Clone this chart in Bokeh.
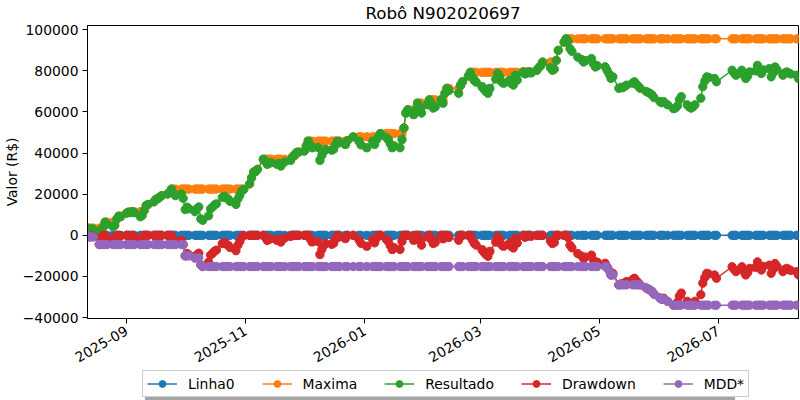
import math
import numpy as np
import pandas as pd
from bokeh.plotting import figure
from bokeh.layouts import column
from bokeh.models import (Range1d, FixedTicker, DatetimeTickFormatter, Legend,
                          LegendItem)
from bokeh.embed import file_html
from bokeh.resources import INLINE

titulo = "Robô N902020697"
rotulo_y = "Valor (R$)"
nomes = ["Linha0", "Maxima", "Resultado", "Drawdown", "MDD*"]
cores = ["#1f77b4", "#ff7f0e", "#2ca02c", "#d62728", "#9467bd"]

datas = [
    "2025-08-12", "2025-08-13", "2025-08-14", "2025-08-15",
    "2025-08-18", "2025-08-19", "2025-08-20", "2025-08-21", "2025-08-22",
    "2025-08-25", "2025-08-26", "2025-08-27", "2025-08-28", "2025-08-29",
    "2025-09-01", "2025-09-02", "2025-09-03", "2025-09-04", "2025-09-05",
    "2025-09-08", "2025-09-09", "2025-09-10", "2025-09-11", "2025-09-12",
    "2025-09-15", "2025-09-16", "2025-09-17", "2025-09-18", "2025-09-19",
    "2025-09-22", "2025-09-23", "2025-09-24", "2025-09-25", "2025-09-26",
    "2025-09-29", "2025-09-30", "2025-10-01", "2025-10-02", "2025-10-03",
    "2025-10-06", "2025-10-07", "2025-10-08", "2025-10-09", "2025-10-10",
    "2025-10-13", "2025-10-14", "2025-10-15", "2025-10-16", "2025-10-17",
    "2025-10-20", "2025-10-21", "2025-10-22", "2025-10-23", "2025-10-24",
    "2025-10-27", "2025-10-28", "2025-10-29", "2025-10-30", "2025-10-31",
    "2025-11-03", "2025-11-04", "2025-11-05", "2025-11-06", "2025-11-07",
    "2025-11-10", "2025-11-11", "2025-11-12", "2025-11-13", "2025-11-14",
    "2025-11-17", "2025-11-18", "2025-11-19", "2025-11-21",
    "2025-11-24", "2025-11-25", "2025-11-26", "2025-11-27", "2025-11-28",
    "2025-12-01", "2025-12-02", "2025-12-03", "2025-12-04", "2025-12-05",
    "2025-12-08", "2025-12-09", "2025-12-10", "2025-12-11", "2025-12-12",
    "2025-12-15", "2025-12-16", "2025-12-17", "2025-12-18", "2025-12-19",
    "2025-12-22", "2025-12-23", "2025-12-26",
    "2025-12-29", "2025-12-30", "2026-01-02",
    "2026-01-05", "2026-01-06", "2026-01-07", "2026-01-08", "2026-01-09",
    "2026-01-12", "2026-01-13", "2026-01-14", "2026-01-15", "2026-01-16",
    "2026-01-19", "2026-01-20", "2026-01-21", "2026-01-22", "2026-01-23",
    "2026-01-26", "2026-01-27", "2026-01-28", "2026-01-29", "2026-01-30",
    "2026-02-02", "2026-02-03", "2026-02-04", "2026-02-05", "2026-02-06",
    "2026-02-09", "2026-02-10", "2026-02-11", "2026-02-12", "2026-02-13",
    "2026-02-18", "2026-02-19", "2026-02-20",
    "2026-02-23", "2026-02-24", "2026-02-25", "2026-02-26", "2026-02-27",
    "2026-03-02", "2026-03-03", "2026-03-04", "2026-03-05", "2026-03-06",
    "2026-03-09", "2026-03-10", "2026-03-11", "2026-03-12", "2026-03-13",
    "2026-03-16", "2026-03-17", "2026-03-18", "2026-03-19", "2026-03-20",
    "2026-03-23", "2026-03-24", "2026-03-25", "2026-03-26", "2026-03-27",
    "2026-03-30", "2026-03-31", "2026-04-01", "2026-04-02",
    "2026-04-06", "2026-04-07", "2026-04-08", "2026-04-09", "2026-04-10",
    "2026-04-13", "2026-04-14", "2026-04-15", "2026-04-16", "2026-04-17",
    "2026-04-20", "2026-04-22", "2026-04-23", "2026-04-24",
    "2026-04-27", "2026-04-28", "2026-04-29", "2026-04-30",
    "2026-05-04", "2026-05-05", "2026-05-06", "2026-05-07", "2026-05-08",
    "2026-05-11", "2026-05-12", "2026-05-13", "2026-05-14", "2026-05-15",
    "2026-05-18", "2026-05-19", "2026-05-20", "2026-05-21", "2026-05-22",
    "2026-05-25", "2026-05-26", "2026-05-27", "2026-05-28", "2026-05-29",
    "2026-06-01", "2026-06-02", "2026-06-03", "2026-06-05",
    "2026-06-08", "2026-06-09", "2026-06-10", "2026-06-11", "2026-06-12",
    "2026-06-15", "2026-06-16", "2026-06-17", "2026-06-18", "2026-06-19",
    "2026-06-22", "2026-06-23", "2026-06-24", "2026-06-25", "2026-06-26",
    "2026-06-29", "2026-06-30",
    "2026-07-08", "2026-07-09", "2026-07-10",
    "2026-07-13", "2026-07-14", "2026-07-15", "2026-07-16", "2026-07-17",
    "2026-07-20", "2026-07-21", "2026-07-22", "2026-07-23", "2026-07-24",
    "2026-07-27", "2026-07-28", "2026-07-29", "2026-07-30", "2026-07-31",
    "2026-08-03", "2026-08-04", "2026-08-05", "2026-08-06", "2026-08-07",
    "2026-08-10", "2026-08-11",
]

resultado = [
    3500, 2700, 3200, 2900,
    -1000, 2500, 4000, 6400, 5500,
    4200, 4800, 8000, 9300, 9000,
    10800, 11300, 11000, 11500, 11000,
    9000, 9600, 12000, 14500, 15000,
    16300, 17500, 17800, 18600, 19300,
    20100, 21000, 22500, 20500, 19300,
    20100, 18000, 12500, 13700, 12900,
    11500, 13000, 13800, 8000, 7300,
    9500, 12900, 13700, 14800, 15300,
    18500, 19000, 18200, 17700, 16500,
    15000, 17700, 19500, 21700, 22300,
    25000, 28000, 30800, 31000, 32100,
    37000, 36100, 34500, 35000, 35400,
    34600, 35000, 33700, 35700,
    36500, 38200, 39000, 40200, 40500,
    41000, 43500, 45800, 44000, 42600,
    42700, 36500, 39000, 41000, 41800,
    41400, 42000, 44000, 45800, 45000,
    44200, 46000, 47900,
    45800, 44000, 42600,
    45800, 44200, 46500, 48000, 49500,
    47500, 46600, 44500, 42600, 43500,
    42600, 46600, 52200, 59500, 61100,
    58700, 61000, 64300, 62000, 59500,
    63500, 65900, 64000, 61900, 62500,
    66000, 64300, 69100, 71500, 70500,
    69100, 73000, 74700,
    77500, 79300, 77000, 75500, 74500,
    72300, 71000, 70000, 69100, 71500,
    76000, 78700, 77000, 74700, 74000,
    75500, 74000, 73100, 77900, 75500,
    79500, 78500, 79000, 79500, 79000,
    80300, 81500, 82500, 84300,
    81500, 80300, 80800, 85100, 90000,
    94000, 95600, 94500, 90800, 89500,
    86700, 85500, 84300, 85000,
    86000, 83500, 81900, 82500,
    82000, 80300, 78500, 76300, 77100,
    71500, 72000, 71800, 72500, 73100,
    74000, 74700, 73500, 72500, 71500,
    70000, 69500, 69000, 68300, 67000,
    65100, 64500, 65000, 63500,
    61600, 61900, 63000, 66000, 67500,
    63500, 62500, 61900, 62500, 63500,
    66700, 72300, 75000, 77100, 76800,
    76300, 74700,
    80300, 79000, 77900,
    80300, 78000, 76300, 77500, 79500,
    80000, 82700, 80000, 78700, 80500,
    81100, 77100, 79000, 81900, 80500,
    77900, 79000, 79500, 79000, 78500,
    77900, 76300,
]

x_ticks = ["2025-09-01", "2025-11-01", "2026-01-01", "2026-03-01", "2026-05-01", "2026-07-01"]
x_tick_labels = ["2025-09", "2025-11", "2026-01", "2026-03", "2026-05", "2026-07"]
y_ticks = [-40000, -20000, 0, 20000, 40000, 60000, 80000, 100000]
y_tick_labels = ["\u221240000", "\u221220000", "0", "20000", "40000", "60000", "80000", "100000"]

xs = list(pd.to_datetime(datas).to_pydatetime())
res = np.array(resultado, dtype=float)
linha0 = np.zeros_like(res)
maxima = np.maximum.accumulate(res)
drawdown = res - maxima
mdd = np.minimum.accumulate(drawdown)
series = [linha0, maxima, res, drawdown, mdd]

ymin = min(float(s.min()) for s in series)
ymax = max(float(s.max()) for s in series)
pad = 0.05 * (ymax - ymin)

FONT = "DejaVu Sans"
W = 800
H_MAIN = 370
H_LEG = 30

p = figure(width=W, height=H_MAIN, x_axis_type="datetime", output_backend="svg",
           toolbar_location=None, title=titulo,
           x_range=Range1d(xs[0], xs[-1]), y_range=Range1d(ymin - pad, ymax + pad),
           min_border_left=87, min_border_right=2, min_border_top=25, min_border_bottom=50)

p.title.align = "center"
p.title.vertical_align = "top"
p.title.text_font = FONT
p.title.text_font_size = "16.7px"
p.title.text_font_style = "normal"
p.title.text_color = "black"
p.title.standoff = 2
p.title.offset = 0

p.xgrid.visible = False
p.ygrid.visible = False
p.outline_line_color = "black"
p.outline_line_alpha = 1.0
p.outline_line_width = 1
p.background_fill_color = "white"
p.border_fill_color = "white"

tick_ms = [pd.Timestamp(t).value / 1e6 for t in x_ticks]
p.xaxis.ticker = FixedTicker(ticks=tick_ms)
p.xaxis.formatter = DatetimeTickFormatter(months="%Y-%m", days="%Y-%m", years="%Y-%m",
                                          hours="%Y-%m", minutes="%Y-%m")
p.xaxis.major_label_overrides = {ms: lab for ms, lab in zip(tick_ms, x_tick_labels)}
p.xaxis.major_label_orientation = math.pi / 6

p.yaxis.ticker = FixedTicker(ticks=y_ticks)
p.yaxis.major_label_overrides = {t: lab for t, lab in zip(y_ticks, y_tick_labels)}
p.yaxis.axis_label = rotulo_y
p.yaxis.axis_label_text_font = FONT
p.yaxis.axis_label_text_font_size = "13.9px"
p.yaxis.axis_label_text_font_style = "normal"
p.yaxis.axis_label_text_color = "black"
p.yaxis.axis_label_standoff = 0

for ax in (p.xaxis[0], p.yaxis[0]):
    ax.major_label_text_font = FONT
    ax.major_label_text_font_size = "13.9px"
    ax.major_label_text_color = "black"
    ax.major_tick_out = 5
    ax.major_tick_in = 0
    ax.major_tick_line_color = "black"
    ax.minor_tick_line_color = None
    ax.axis_line_color = "black"
p.xaxis.major_label_standoff = 6
p.yaxis.major_label_standoff = 4

for nome, cor, s in zip(nomes, cores, series):
    p.line(xs, s, line_color=cor, line_width=1.5)
    p.scatter(xs, s, size=8.3, marker="circle", fill_color=cor, line_color=cor)

# legend strip below the chart: same series drawn again, but outside this
# strip's ranges, so only their legend swatches show
pl = figure(width=W, height=H_LEG, output_backend="svg", toolbar_location=None,
            title=None, x_axis_location=None, y_axis_location=None,
            x_range=Range1d(0, 1), y_range=Range1d(0, 1),
            min_border_left=0, min_border_right=0, min_border_top=0, min_border_bottom=0)
pl.xgrid.visible = False
pl.ygrid.visible = False
pl.outline_line_color = None
pl.background_fill_color = "white"
pl.border_fill_color = "white"

leg_rends = []
for nome, cor, s in zip(nomes, cores, series):
    lr = pl.line(xs, s, line_color=cor, line_width=1.5)
    sr = pl.scatter(xs, s, size=8.3, marker="circle", fill_color=cor, line_color=cor)
    leg_rends.append([lr, sr])

# drop shadow of the legend box (a blank one-item legend of the same size)
shadow = Legend(items=[LegendItem(label="", renderers=leg_rends[0])],
                orientation="horizontal", location=(58, 0), margin=0,
                padding=4, spacing=0, glyph_width=590, glyph_height=17,
                label_height=17, label_width=0, label_standoff=0,
                label_text_font_size="1px", label_text_alpha=0,
                background_fill_color="#4d4d4d", background_fill_alpha=0.5,
                border_line_color=None)
pl.add_layout(shadow, "center")

items = [LegendItem(label=n, renderers=r) for n, r in zip(nomes, leg_rends)]
legend = Legend(items=items, orientation="horizontal", location=(55, 3), margin=0,
                padding=4, spacing=27, glyph_width=30, glyph_height=17,
                label_height=17, label_standoff=11,
                label_text_font=FONT, label_text_font_size="13.9px",
                label_text_color="black", background_fill_color="white",
                background_fill_alpha=1.0, border_line_color="#cccccc",
                border_line_width=1, border_line_alpha=1.0)
pl.add_layout(legend, "center")

layout = column(p, pl, spacing=0)

open("out.html", "w").write(file_html(layout, INLINE))
